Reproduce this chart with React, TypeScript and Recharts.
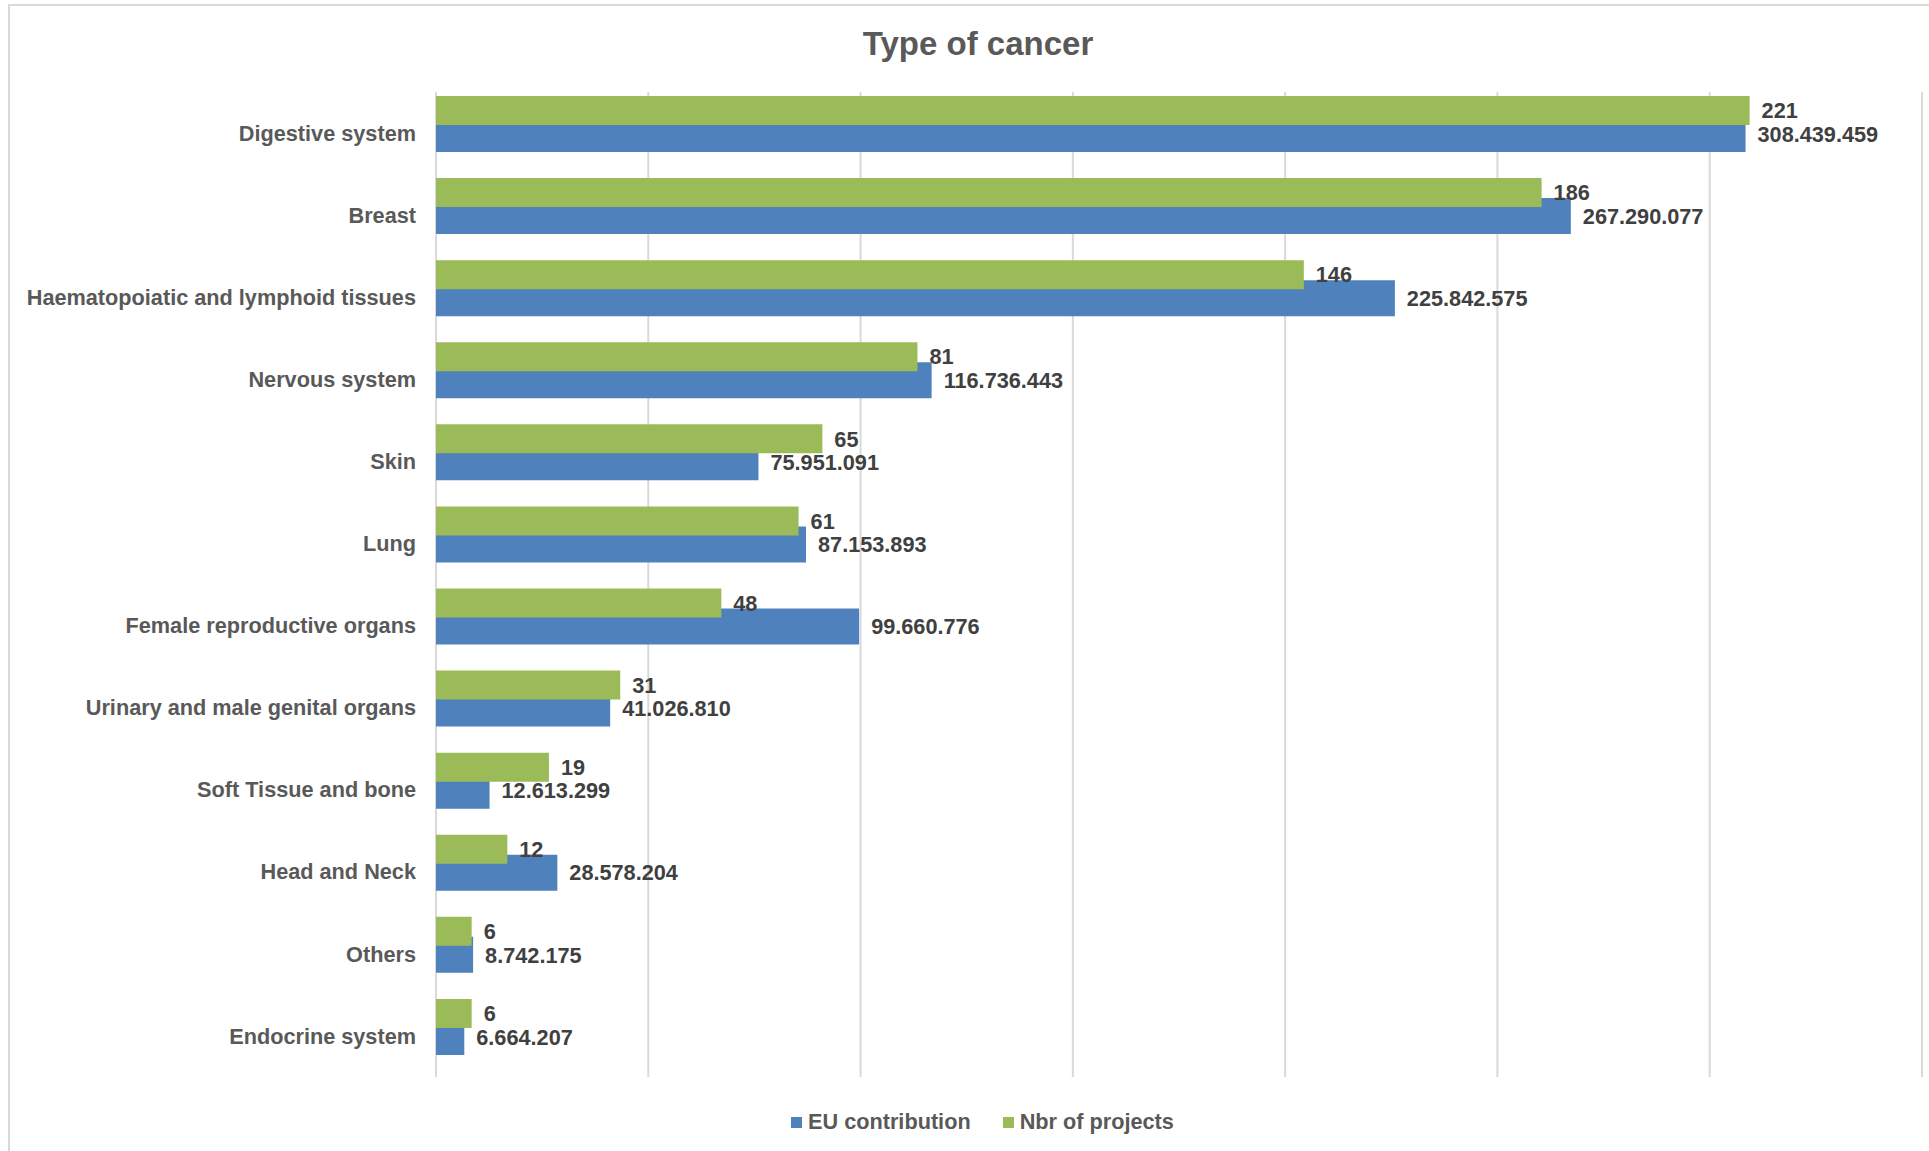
import React from 'react';
import { BarChart, Bar, XAxis, YAxis, CartesianGrid, LabelList, Legend } from 'recharts';

const categories = [
  'Digestive system',
  'Breast',
  'Haematopoiatic and lymphoid tissues',
  'Nervous system',
  'Skin',
  'Lung',
  'Female reproductive organs',
  'Urinary and male genital organs',
  'Soft Tissue and bone',
  'Head and Neck',
  'Others',
  'Endocrine system',
];

const euContribution = [
  308439459, 267290077, 225842575, 116736443, 75951091, 87153893, 99660776, 41026810, 12613299, 28578204,
  8742175, 6664207,
];

const nbrProjects = [221, 186, 146, 81, 65, 61, 48, 31, 19, 12, 6, 6];

const euTicks = [0, 50000000, 100000000, 150000000, 200000000, 250000000, 300000000, 350000000];
const nbrDomain = [0, 250];

const seriesNames = { eu: 'EU contribution', nbr: 'Nbr of projects' };

const BLUE = '#4F81BD';
const GREEN = '#9BBB59';
const TEXT = '#595959';
const LABEL = '#404040';
const GRID = '#D9D9D9';
const FONT = "'Liberation Sans', Arial, sans-serif";

const data = categories.map((name, i) => ({ name, eu: euContribution[i], nbr: nbrProjects[i] }));

const fmt = (v: any) => String(v).replace(/\B(?=(\d{3})+(?!\d))/g, '.');

function CategoryTick(props: any) {
  const { x, y, payload } = props;
  return (
    <text
      x={x}
      y={y + 9}
      dy="0.355em"
      textAnchor="end"
      fill={TEXT}
      fontSize={21.7}
      fontWeight="bold"
      fontFamily={FONT}
    >
      {payload.value}
    </text>
  );
}

const legendItems = [
  { name: seriesNames.eu, color: BLUE },
  { name: seriesNames.nbr, color: GREEN },
];

function LegendBox() {
  return (
    <div style={{ height: 74, position: 'relative', width: '100%' }}>
      <div
        style={{
          position: 'absolute',
          top: 32,
          left: 791,
          display: 'flex',
          alignItems: 'center',
          fontFamily: FONT,
          fontSize: 21.7,
          fontWeight: 'bold',
          color: TEXT,
          lineHeight: '26px',
          whiteSpace: 'nowrap',
        }}
      >
        {legendItems.map((s) => (
          <span key={s.name} style={{ display: 'flex', alignItems: 'center', marginRight: 32 }}>
            <span style={{ display: 'inline-block', width: 11, height: 11, background: s.color, marginRight: 6 }} />
            <span>{s.name}</span>
          </span>
        ))}
      </div>
    </div>
  );
}

const labelStyle = { fontSize: 21.7, fontWeight: 'bold', fill: LABEL, fontFamily: FONT };

export default function App() {
  return (
    <div
      style={{
        position: 'absolute',
        left: 0,
        top: 0,
        width: 1929,
        height: 1151,
        background: '#fff',
        overflow: 'hidden',
        fontFamily: FONT,
      }}
    >
      <div
        style={{
          position: 'absolute',
          left: 8,
          top: 4,
          width: 1960,
          height: 1200,
          borderTop: `2px solid ${GRID}`,
          borderLeft: `2px solid ${GRID}`,
        }}
      />
      <div
        style={{
          position: 'absolute',
          top: 24,
          left: 0,
          width: 1956,
          textAlign: 'center',
          fontSize: 33,
          fontWeight: 'bold',
          color: TEXT,
          lineHeight: '40px',
          fontFamily: FONT,
        }}
      >
        Type of cancer
      </div>
      <div style={{ position: 'absolute', left: 0, top: 0 }}>
        <BarChart
          width={1929}
          height={1151}
          data={data}
          layout="vertical"
          margin={{ top: 92, right: 7, left: 0, bottom: 0 }}
          barGap={-9}
        >
          <CartesianGrid xAxisId="eu" horizontal={false} vertical stroke={GRID} strokeWidth={2} />
          <XAxis xAxisId="eu" type="number" domain={[euTicks[0], euTicks[euTicks.length - 1]]} ticks={euTicks} hide />
          <XAxis xAxisId="nbr" type="number" domain={nbrDomain} hide />
          <YAxis
            type="category"
            dataKey="name"
            width={436}
            tickSize={0}
            tickMargin={20}
            axisLine={false}
            tickLine={false}
            tick={<CategoryTick />}
            interval={0}
            padding={{ top: -9, bottom: 9 }}
          />
          <Legend verticalAlign="bottom" content={<LegendBox />} />
          <Bar
            dataKey="nbr"
            name={seriesNames.nbr}
            xAxisId="nbr"
            fill={GREEN}
            barSize={29}
            isAnimationActive={false}
            zIndex={320}
          >
            <LabelList dataKey="nbr" position="right" offset={12} formatter={fmt} style={labelStyle} />
          </Bar>
          <Bar
            dataKey="eu"
            name={seriesNames.eu}
            xAxisId="eu"
            fill={BLUE}
            barSize={36}
            isAnimationActive={false}
            zIndex={300}
          >
            <LabelList dataKey="eu" position="right" offset={12} formatter={fmt} style={labelStyle} />
          </Bar>
        </BarChart>
      </div>
    </div>
  );
}
